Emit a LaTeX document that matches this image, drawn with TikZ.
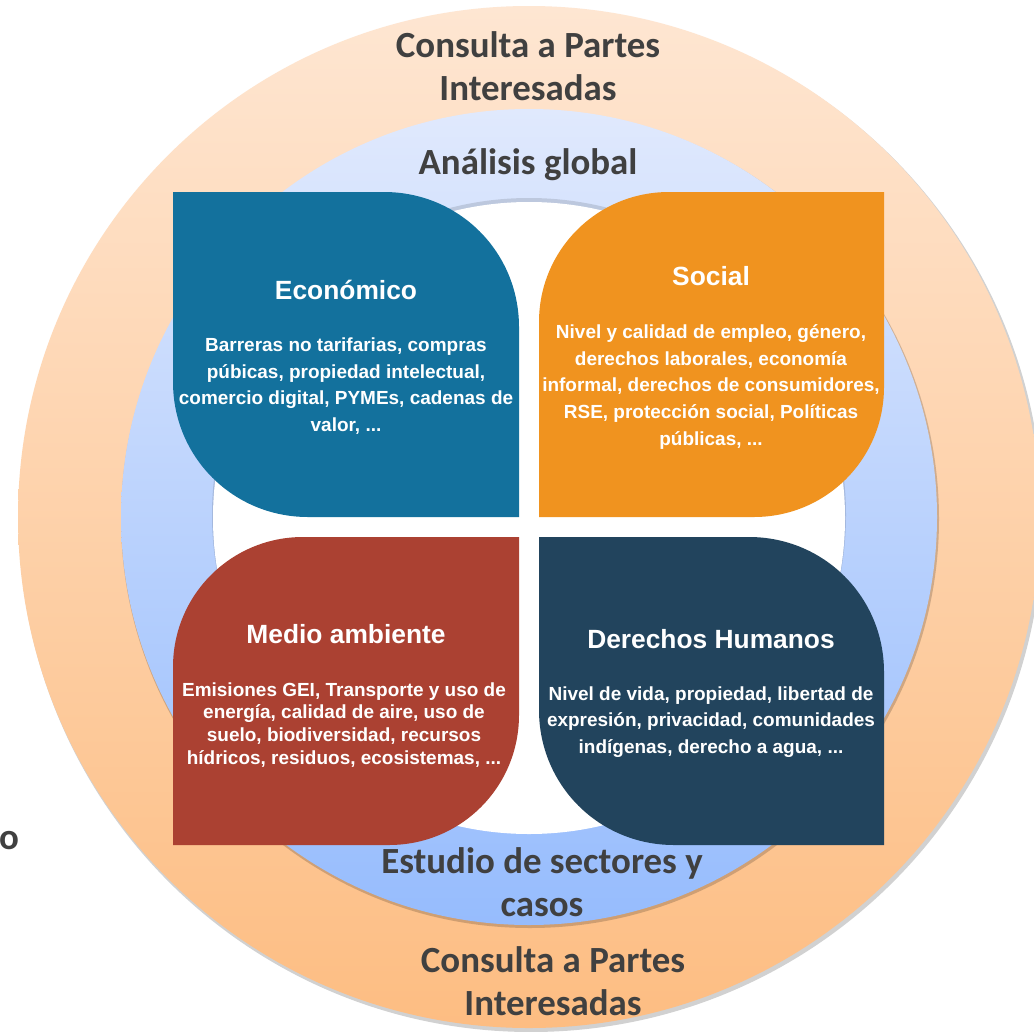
\documentclass[tikz,border=0pt]{standalone}
\usepackage{fontspec}
\setmainfont{Liberation Sans}
\newfontfamily\ringfont{Carlito}
\usetikzlibrary{positioning}
\definecolor{econ}{HTML}{13719D}
\definecolor{social}{HTML}{F0931F}
\definecolor{medio}{HTML}{AB4132}
\definecolor{derechos}{HTML}{22445D}
\definecolor{ringtext}{HTML}{404040}
\definecolor{peachtop}{HTML}{FEE6D2}
\definecolor{peachbot}{HTML}{FDBD82}
\definecolor{bluetop}{HTML}{E0E9FD}
\definecolor{bluebot}{HTML}{96BCFD}
\tikzset{
  ringlabel/.style={font=\ringfont\bfseries\fontsize{21}{24.6}\selectfont,
    text=ringtext, align=center, inner sep=0pt},
  quadtitle/.style={font=\bfseries\fontsize{15}{18}\selectfont,
    text=white, inner sep=0pt},
  quadbody/.style={font=\bfseries\fontsize{10.8}{15.2}\selectfont,
    text=white, align=center, inner sep=0pt},
  ringshadow/.style={fill=black, opacity=0.18}
}

\begin{document}
\begin{tikzpicture}[x=0.02cm, y=-0.02cm]
  \useasboundingbox (0,0) rectangle (1034,1031);
  \fill[white] (0,0) rectangle (1034,1031);

  % rings: stakeholders, global analysis, centre
  \fill[ringshadow] (531,520) circle[radius=512];
  \shade[top color=peachtop, bottom color=peachbot] (529,517) circle[radius=511];
  \fill[ringshadow] (530,519) circle[radius=409];
  \shade[top color=bluetop, bottom color=bluebot] (529,517) circle[radius=408];
  \fill[black, opacity=0.12] (529,515) circle[radius=317];
  \fill[white] (529,518) circle[radius=316];

  % four leaf-shaped quadrants
  \foreach \xa/\ya/\xb/\yb/\col in {173/192/519/517/econ, 539/537/884/845/derechos}{
    \fill[\col] (\xa,\ya) -- (\xb-135,\ya)
      .. controls (\xb-60,\ya) and (\xb,\ya+60) .. (\xb,\ya+135)
      -- (\xb,\yb) -- (\xa+135,\yb)
      .. controls (\xa+60,\yb) and (\xa,\yb-60) .. (\xa,\yb-135) -- cycle;
  }
  \foreach \xa/\ya/\xb/\yb/\col in {539/192/884/517/social, 173/537/519/845/medio}{
    \fill[\col] (\xa,\ya+130)
      .. controls (\xa,\ya+58) and (\xa+58,\ya) .. (\xa+130,\ya)
      -- (\xb,\ya) -- (\xb,\yb-130)
      .. controls (\xb,\yb-58) and (\xb-58,\yb) .. (\xb-130,\yb)
      -- (\xa,\yb) -- cycle;
  }

  \node[ringlabel] (consultatop) at (528,66) {Consulta a Partes\\Interesadas};
  \node[ringlabel] (analisis) at (528,165) {Análisis global};
  \node[ringlabel] (estudio) at (542,882) {Estudio de sectores y\\casos};
  \node[ringlabel] (consultabot) at (553,981) {Consulta a Partes\\Interesadas};
  \node[ringlabel] (resto) at (9,841) {o};

  \node[quadtitle] (econtitle) at (346,290) {Económico};
  \node[quadbody] (econbody) at (346,386)
    {Barreras no tarifarias, compras\\púbicas, propiedad intelectual,\\comercio digital, PYMEs, cadenas de\\valor, ...};

  \node[quadtitle] (socialtitle) at (711,276) {Social};
  \node[quadbody] (socialbody) at (711,387)
    {Nivel y calidad de empleo, género,\\derechos laborales, economía\\informal, derechos de consumidores,\\RSE, protección social, Políticas\\públicas, ...};

  \node[quadtitle] (mediotitle) at (346,634) {Medio ambiente};
  \node[quadbody, font=\bfseries\fontsize{10.8}{13}\selectfont] (mediobody) at (344,725)
    {Emisiones GEI, Transporte y uso de\\energía, calidad de aire, uso de\\suelo, biodiversidad, recursos\\hídricos, residuos, ecosistemas, ...};

  \node[quadtitle] (derechostitle) at (711,639) {Derechos Humanos};
  \node[quadbody] (derechosbody) at (711,722)
    {Nivel de vida, propiedad, libertad de\\expresión, privacidad, comunidades\\indígenas, derecho a agua, ...};
\end{tikzpicture}
\end{document}
